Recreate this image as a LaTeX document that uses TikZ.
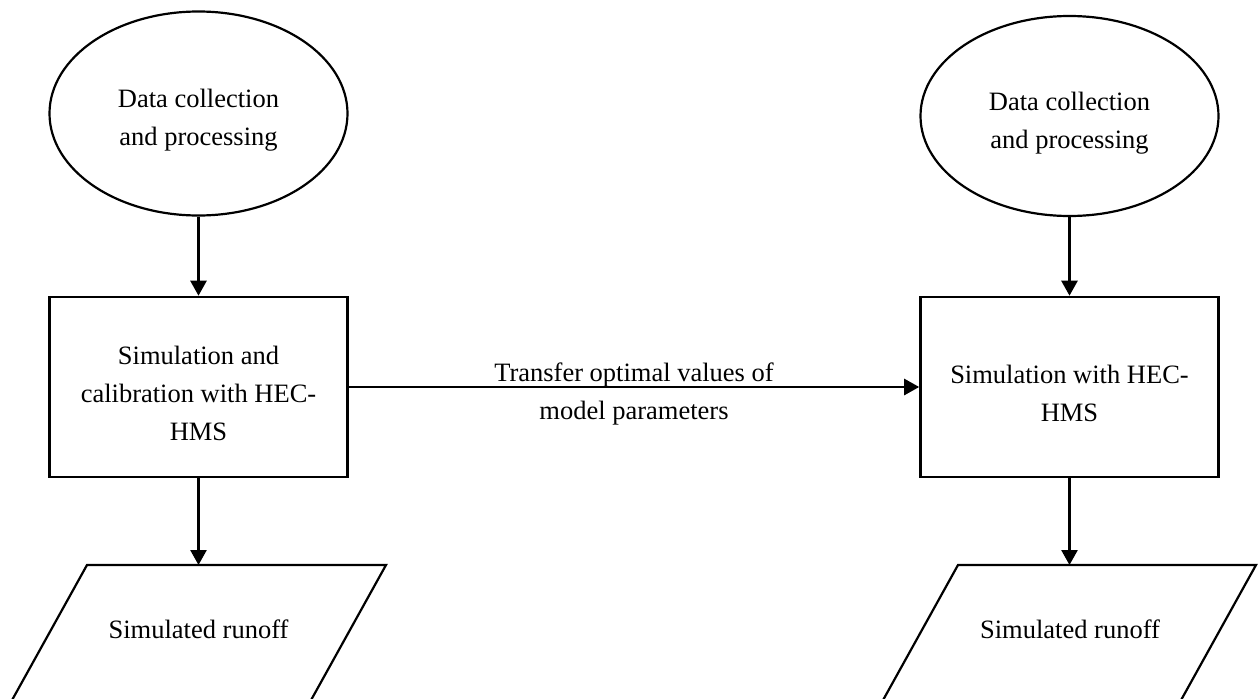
\documentclass[tikz,border=0pt]{standalone}
\usepackage{fontspec}
\setmainfont{Liberation Serif}
\usetikzlibrary{arrows.meta,shapes.geometric}
\newcommand{\toprowstrut}{\rule{0pt}{32pt}}
\tikzset{
	flowtext/.style={font=\fontsize{26.5}{38}\selectfont, align=center},
	dataoval/.style={ellipse, draw, line width=2.2pt, inner sep=0pt, minimum width=298pt, flowtext},
	simbox/.style={rectangle, draw, line width=2.6pt, inner sep=0pt, minimum width=298pt, minimum height=180pt, flowtext},
	flowline/.style={line width=2.6pt, -{Triangle[length=15pt,width=16pt]}},
	runoffpar/.style={line width=2.2pt},
}

\begin{document}
\begin{tikzpicture}[x=1pt, y=-1pt]
	%%%%% START %%%%%
	\useasboundingbox (0, 0) rectangle (1259, 699);
	\clip (0, 0) rectangle (1259, 699);

	\node[dataoval, minimum height=204pt] (dataL) at (198.5, 113.5) {\toprowstrut Data collection\\and processing};
	\node[dataoval, minimum height=200pt] (dataR) at (1069.5, 116) {\toprowstrut Data collection\\and processing};

	\node[simbox] (simL) at (198.5, 387) {\toprowstrut Simulation and\\calibration with HEC-\\HMS};
	\node[simbox] (simR) at (1069.5, 387) {\toprowstrut Simulation with HEC-\\HMS};

	% output shapes, cut by the lower edge
	\draw[runoffpar] (87, 565) coordinate (runLtop) -- (386, 565) -- (300, 720) -- (1, 720) -- cycle;
	\draw[runoffpar] (958, 565) coordinate (runRtop) -- (1256, 565) -- (1170, 720) -- (872, 720) -- cycle;
	\node[flowtext] (runL) at (198.5, 629) {Simulated runoff};
	\node[flowtext] (runR) at (1070, 629) {Simulated runoff};

	\draw[flowline] (dataL) -- (simL);
	\draw[flowline] (dataR) -- (simR);
	\draw[flowline] (simL.south) -- (simL.south |- runLtop);
	\draw[flowline] (simR.south) -- (simR.south |- runRtop);

	\draw[flowline] (simL) -- (simR) node[midway, flowtext] {\toprowstrut Transfer optimal values of\\model parameters};
	%%%%% END %%%%%
\end{tikzpicture}
\end{document}
